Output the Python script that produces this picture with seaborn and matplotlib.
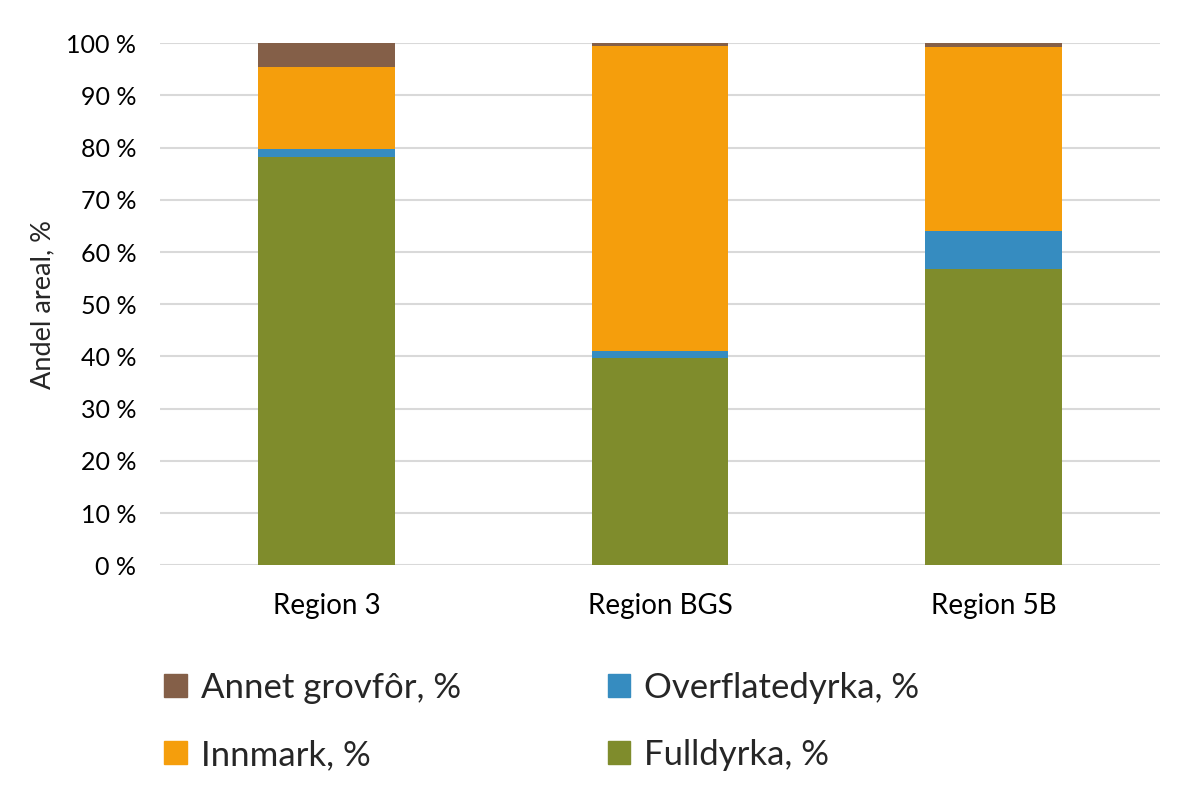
import pandas as pd
import numpy as np
import matplotlib.pyplot as plt
import seaborn as sns
from matplotlib.patches import Patch
from matplotlib.ticker import FuncFormatter

regions = ["Region 3", "Region BGS", "Region 5B"]
fulldyrka = [78.3, 39.7, 56.8]
overflatedyrka = [1.4, 1.4, 7.2]
innmark = [15.8, 58.3, 35.3]
annet = [4.5, 0.6, 0.7]

series_names = ["Fulldyrka, %", "Overflatedyrka, %", "Innmark, %", "Annet grovfôr, %"]
series_values = [fulldyrka, overflatedyrka, innmark, annet]
colors = ["#7f8c2c", "#368cc0", "#f59e0c", "#845f48"]

sns.set_style("white")
plt.rcParams['font.family'] = ['Lato', 'DejaVu Sans']

fig = plt.figure(figsize=(12, 8), dpi=100)
ax = fig.add_axes([0.1333, 0.2934, 0.8334, 0.6525])

bottom = np.zeros(len(regions))
for name, vals, col in zip(series_names, series_values, colors):
    df = pd.DataFrame({"region": regions, "value": vals})
    sns.barplot(data=df, x="region", y="value", color=col, width=0.41,
                bottom=bottom, ax=ax, saturation=1, linewidth=0, zorder=3)
    bottom = bottom + np.array(vals)

ax.set_xlim(-0.5, 2.5)
ax.set_ylim(0, 100)
ax.set_yticks(np.arange(0, 101, 10))
ax.yaxis.set_major_formatter(FuncFormatter(lambda v, p: f"{int(v)} %"))
ax.grid(axis="y", color="#d9d9d9", linewidth=1.5, zorder=0)
for s in ax.spines.values():
    s.set_visible(False)
ax.tick_params(axis="both", length=0, colors="#000000")
ax.tick_params(axis="y", pad=17, labelsize=18)
ax.tick_params(axis="x", pad=20, labelsize=20)
ax.set_xlabel("")
ax.set_ylabel("Andel areal, %", fontsize=19.5, labelpad=8)

handles = [Patch(color=colors[3]), Patch(color=colors[2]),
           Patch(color=colors[1]), Patch(color=colors[0])]
labels = [series_names[3], series_names[2], series_names[1], series_names[0]]
fig.legend(handles, labels, ncol=2, loc="upper left",
           bbox_to_anchor=(0.111, 0.199), frameon=False,
           prop={"size": 25},
           handlelength=0.65, handleheight=0.65, handletextpad=0.4,
           columnspacing=4.23, labelspacing=1.0)

fig.savefig("out.png", dpi=100)
